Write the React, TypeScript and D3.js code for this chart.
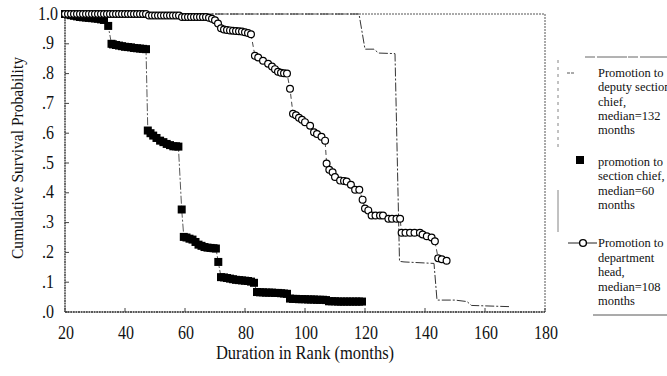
import React from 'react';
import * as d3 from 'd3';

// Kaplan-Meier style survival curves: time to promotion by rank

const xTicks = [20, 40, 60, 80, 100, 120, 140, 160, 180];
const yTicks = [0, 0.1, 0.2, 0.3, 0.4, 0.5, 0.6, 0.7, 0.8, 0.9, 1.0];
const yTickLabels = ['.0', '.1', '.2', '.3', '.4', '.5', '.6', '.7', '.8', '.9', '1.0'];

// promotion to deputy section chief (line only)
const deputyMonths = [20, 118, 120, 123, 124.5, 130, 131.5, 133, 143, 144, 150, 154, 155.5, 168];
const deputyValues = [1.0, 1.0, 0.882, 0.882, 0.869, 0.867, 0.17, 0.168, 0.163, 0.04, 0.04, 0.035, 0.022, 0.018];

// promotion to section chief (filled squares)
const chiefMonths = [
  20, 21, 22, 23, 24, 25, 26, 27, 28, 29, 30, 31, 32, 33, 34.4, 35.5, 36, 37, 38, 39, 40, 41, 42,
  43, 44, 45, 46, 47, 47.6, 48.5, 49.4, 50.5, 51.7, 52.8, 53.9, 55, 56.1, 57, 57.8, 58.9, 59.6,
  60.5, 61.5, 62.5, 63.5, 64.5, 65.5, 66.5, 67.5, 68.5, 69.5, 70.3, 71.1, 72, 73, 74, 75, 76, 77,
  78, 79, 80, 81, 82, 83, 84, 85, 86, 87, 88, 89, 90, 91, 92, 93, 94, 95, 96, 97, 98, 99, 100, 101,
  102, 103, 104, 105, 106, 107, 108, 109, 110, 111, 112, 113, 114, 115, 116, 117, 118, 119,
];
const chiefValues = [
  1.0, 0.998, 0.996, 0.994, 0.992, 0.99, 0.989, 0.988, 0.987, 0.986, 0.985, 0.984, 0.982, 0.98,
  0.96, 0.9, 0.898, 0.896, 0.894, 0.892, 0.89, 0.889, 0.888, 0.886, 0.885, 0.884, 0.883, 0.882,
  0.609, 0.6, 0.592, 0.584, 0.575, 0.57, 0.564, 0.56, 0.556, 0.556, 0.555, 0.344, 0.252, 0.25,
  0.246, 0.243, 0.235, 0.226, 0.222, 0.218, 0.216, 0.215, 0.214, 0.213, 0.168, 0.117, 0.116,
  0.114, 0.112, 0.11, 0.108, 0.107, 0.106, 0.105, 0.104, 0.102, 0.098, 0.067, 0.066, 0.066,
  0.065, 0.065, 0.065, 0.064, 0.064, 0.063, 0.062, 0.061, 0.045, 0.044, 0.044, 0.043, 0.043,
  0.043, 0.042, 0.042, 0.042, 0.041, 0.041, 0.041, 0.04, 0.036, 0.036, 0.036, 0.035, 0.035,
  0.035, 0.035, 0.035, 0.035, 0.035, 0.035, 0.035, 0.035,
];

// promotion to department head (open circles)
const headMonths = [
  20, 21, 22, 23, 24, 25, 26, 27, 28, 29, 30, 31, 32, 33, 34, 35, 36, 37, 38, 39, 40, 41, 42, 43,
  44, 45, 46, 47, 48, 49, 50, 51, 52, 53, 54, 55, 56, 57, 58, 59, 60, 61, 62, 63, 64, 65, 66, 67,
  68, 69, 70, 71, 72, 73, 74, 75, 76, 77, 78, 79, 80, 81, 82, 83.3, 84.4, 86, 87.7, 89, 90, 91,
  92, 93, 94, 95, 96, 97, 98, 99, 100, 101.7, 103, 104, 105.5, 106.7, 107.2, 108.1, 109.2, 110,
  111.7, 113, 113.9, 115.3, 116.7, 118.1, 119.2, 120, 121.1, 122.2, 123.5, 125, 126, 127.8, 129,
  130.5, 131.7, 132.2, 133.5, 135, 136.5, 138.3, 139.2, 140.6, 142.2, 143.3, 144.4, 145.6, 147.2,
];
const headValues = [
  1.0, 1.0, 1.0, 1.0, 1.0, 1.0, 1.0, 1.0, 1.0, 1.0, 1.0, 1.0, 1.0, 1.0, 1.0, 1.0, 1.0, 1.0, 1.0,
  1.0, 1.0, 1.0, 1.0, 1.0, 1.0, 1.0, 1.0, 1.0, 0.995, 0.995, 0.995, 0.995, 0.995, 0.995, 0.995,
  0.995, 0.995, 0.995, 0.995, 0.99, 0.99, 0.99, 0.99, 0.99, 0.99, 0.99, 0.99, 0.99, 0.987, 0.984,
  0.979, 0.968, 0.952, 0.948, 0.946, 0.945, 0.944, 0.943, 0.942, 0.941, 0.939, 0.936, 0.932,
  0.86, 0.854, 0.843, 0.833, 0.824, 0.815, 0.806, 0.803, 0.801, 0.8, 0.749, 0.665, 0.66, 0.652,
  0.645, 0.637, 0.625, 0.603, 0.597, 0.588, 0.575, 0.498, 0.477, 0.469, 0.453, 0.441, 0.44,
  0.438, 0.427, 0.41, 0.41, 0.377, 0.347, 0.341, 0.324, 0.324, 0.324, 0.324, 0.313, 0.313,
  0.313, 0.313, 0.266, 0.266, 0.266, 0.266, 0.266, 0.26, 0.254, 0.25, 0.237, 0.18, 0.177, 0.172,
];

const legendDeputy = ['Promotion to', 'deputy section', 'chief,', 'median=132', 'months'];
const legendChief = ['promotion to', 'section chief,', 'median=60', 'months'];
const legendHead = ['Promotion to', 'department', 'head,', 'median=108', 'months'];

const W = 667;
const H = 376;
const serif = '"Liberation Serif", "Times New Roman", serif';

// the scanned original is slightly taller than wide, so text gets a small vertical stretch
const Txt = ({ x, y, size, sy = 1.2, anchor = 'start', children }: any) => (
  <text
    transform={`translate(${x},${y}) scale(1,${sy})`}
    textAnchor={anchor}
    fontSize={size}
    fill="#111"
  >
    {children}
  </text>
);

export default function App() {
  const x = d3.scaleLinear().domain([20, 180]).range([65, 545]);
  const y = d3.scaleLinear().domain([0, 1]).range([312, 14]);

  const line = d3
    .line<[number, number]>()
    .x((d) => x(d[0]))
    .y((d) => y(d[1]));

  const deputy = deputyMonths.map((m, i) => [m, deputyValues[i]] as [number, number]);
  const chief = chiefMonths.map((m, i) => [m, chiefValues[i]] as [number, number]);
  const head = headMonths.map((m, i) => [m, headValues[i]] as [number, number]);

  const [x0, x1] = x.range();
  const [y0, y1] = y.range();

  const legendText = (lines: string[], lx: number, ly: number, step: number) =>
    lines.map((t, i) => (
      <Txt key={t + i} x={lx} y={ly + i * step} size={12.5} sy={1.08}>
        {t}
      </Txt>
    ));

  return (
    <svg
      width={W}
      height={H}
      style={{ position: 'absolute', left: 0, top: 0, background: '#fff', fontFamily: serif }}
    >
      {/* frame */}
      <line x1={x0} x2={x1} y1={y1} y2={y1} stroke="#555" strokeWidth={1} strokeDasharray="2,1" />
      <line x1={x1} x2={x1} y1={y1} y2={y0} stroke="#555" strokeWidth={1} strokeDasharray="2,1" />
      <line x1={x0} x2={x1} y1={y0} y2={y0} stroke="#222" strokeWidth={1.3} strokeDasharray="2,0.6" />
      <line x1={x0} x2={x0} y1={y1} y2={y0} stroke="#222" strokeWidth={1.3} strokeDasharray="2,0.6" />

      {/* ticks, pointing inward */}
      {yTicks.map((t) => (
        <line key={'yt' + t} x1={x0} x2={x0 + 4} y1={y(t)} y2={y(t)} stroke="#444" strokeWidth={1} />
      ))}
      {xTicks.map((t) => (
        <line key={'xt' + t} x1={x(t)} x2={x(t)} y1={y0} y2={y0 - 4} stroke="#444" strokeWidth={1} />
      ))}

      {yTicks.map((t, i) => (
        <Txt key={'yl' + t} x={48} y={y(t) + 5.5} size={16} anchor="middle">
          {yTickLabels[i]}
        </Txt>
      ))}
      {xTicks.map((t) => (
        <Txt key={'xl' + t} x={x(t) + 1} y={339} size={16} anchor="middle">
          {t}
        </Txt>
      ))}

      <Txt x={305} y={359} size={16.5} sy={1.15} anchor="middle">
        Duration in Rank (months)
      </Txt>
      <text
        transform="translate(23,158) rotate(-90)"
        textAnchor="middle"
        fontSize={16}
        fill="#111"
        textLength={202}
        lengthAdjust="spacingAndGlyphs"
      >
        Cumulative Survival Probability
      </text>

      {/* deputy section chief */}
      <path d={line(deputy) || ''} fill="none" stroke="#333" strokeWidth={1} strokeDasharray="9,2,2,2" />

      {/* section chief */}
      <path d={line(chief) || ''} fill="none" stroke="#444" strokeWidth={0.9} strokeDasharray="8,2,2,2" />
      {chief.map((d, i) => (
        <rect key={'sq' + i} x={x(d[0]) - 4} y={y(d[1]) - 4} width={8} height={8} fill="#000" />
      ))}

      {/* department head */}
      <path d={line(head) || ''} fill="none" stroke="#333" strokeWidth={0.9} strokeDasharray="5,3" />
      {head.map((d, i) => (
        <circle
          key={'c' + i}
          cx={x(d[0])}
          cy={y(d[1])}
          r={3.4}
          fill="#fff"
          stroke="#000"
          strokeWidth={1.2}
        />
      ))}

      {/* legend frame */}
      <line x1={585} x2={667} y1={57} y2={57} stroke="#555" strokeWidth={0.9} strokeDasharray="10,2,30,1" />
      <line x1={558} x2={558} y1={60} y2={150} stroke="#666" strokeWidth={0.8} strokeDasharray="3,4" />
      <line x1={558} x2={558} y1={190} y2={232} stroke="#666" strokeWidth={0.8} />
      <line x1={593} x2={667} y1={315} y2={315} stroke="#444" strokeWidth={0.9} />

      {/* legend symbols */}
      <line x1={567} x2={574} y1={73} y2={73} stroke="#444" strokeWidth={0.9} strokeDasharray="3,1" />
      <rect x={576} y={156} width={8} height={8} fill="#000" />
      <line x1={568} x2={597} y1={243} y2={243} stroke="#222" strokeWidth={1} />
      <circle cx={583} cy={243} r={3.4} fill="#fff" stroke="#000" strokeWidth={1.4} />

      {legendText(legendDeputy, 598, 77, 14.3)}
      {legendText(legendChief, 598, 166, 14.3)}
      {legendText(legendHead, 598, 247, 14.6)}
    </svg>
  );
}
